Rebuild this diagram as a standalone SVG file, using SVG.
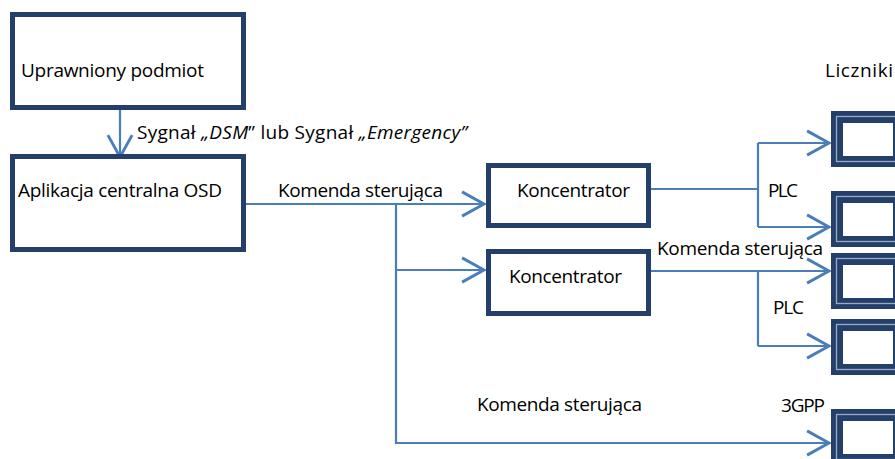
<svg xmlns="http://www.w3.org/2000/svg" xmlns:xlink="http://www.w3.org/1999/xlink" width="895" height="459" viewBox="0 0 895 459">
<style>
.box{fill:#fff;stroke:#24406a;stroke-width:5}
.t{font-family:"Open Sans","Liberation Sans",sans-serif;font-size:19px;fill:#000}
.c{fill:none;stroke:#4a7ebb;stroke-width:2.2}
.ar{fill:none;stroke:#4a7ebb;stroke-width:2.5}
</style>
<defs>
<marker id="arr" markerUnits="userSpaceOnUse" markerWidth="30" markerHeight="30" viewBox="-22 -13 26 26" refX="0" refY="0" orient="auto" overflow="visible">
<path class="ar" d="M-19,-10.5 L0,0 L-19,10.5"/>
</marker>
<g id="meter">
<rect x="0" y="0" width="72" height="56" fill="#24406a"/>
<rect x="5.5" y="5.5" width="70" height="45" fill="none" stroke="#9aaac0" stroke-width="1.3"/>
<rect x="12" y="12" width="50" height="33" fill="#fff"/>
</g>
</defs>
<g id="connectors">
<path class="c" d="M120,110 V157" marker-end="url(#arr)"/>
<path class="c" d="M246,204 H484" marker-end="url(#arr)"/>
<path class="c" d="M396,204 V443 H829" marker-end="url(#arr)"/>
<path class="c" d="M396,270 H484" marker-end="url(#arr)"/>
<path class="c" d="M651,189 H758"/>
<path class="c" d="M758,143 V227"/>
<path class="c" d="M758,143 H829" marker-end="url(#arr)"/>
<path class="c" d="M758,227 H829" marker-end="url(#arr)"/>
<path class="c" d="M651,271 H758 V346"/>
<path class="c" d="M758,346 H829" marker-end="url(#arr)"/>
<path class="c" d="M758,271 H829" marker-end="url(#arr)"/>
</g>
<g id="labels">
<text class="t" x="137" y="139" textLength="330">Sygnał <tspan font-style="italic">„DSM</tspan>” lub Sygnał <tspan font-style="italic">„Emergency”</tspan></text>
<text class="t" x="278" y="197" textLength="165">Komenda sterująca</text>
<text class="t" x="657" y="255" textLength="166">Komenda sterująca</text>
<text class="t" x="477" y="411" textLength="165">Komenda sterująca</text>
<text class="t" x="768" y="197" textLength="30">PLC</text>
<text class="t" x="773" y="314" textLength="31">PLC</text>
<text class="t" x="781" y="412" textLength="44">3GPP</text>
<text class="t" x="825" y="77" textLength="68">Liczniki</text>
</g>
<g id="uprawniony">
<rect class="box" x="12.5" y="14.5" width="231" height="93"/>
<text class="t" x="21" y="77" textLength="183">Uprawniony podmiot</text>
</g>
<g id="aplikacja">
<rect class="box" x="12.5" y="156.5" width="231" height="93"/>
<text class="t" x="18" y="197" textLength="204">Aplikacja centralna OSD</text>
</g>
<g id="koncentrator1">
<rect class="box" x="488.5" y="165.5" width="160" height="60"/>
<text class="t" x="517" y="197" textLength="113">Koncentrator</text>
</g>
<g id="koncentrator2">
<rect class="box" x="488.5" y="251.5" width="160" height="62"/>
<text class="t" x="509" y="283" textLength="113">Koncentrator</text>
</g>
<g id="licznik1"><use xlink:href="#meter" x="831" y="111"/></g>
<g id="licznik2"><use xlink:href="#meter" x="831" y="191"/></g>
<g id="licznik3"><use xlink:href="#meter" x="831" y="253"/></g>
<g id="licznik4"><use xlink:href="#meter" x="831" y="319"/></g>
<g id="licznik5"><use xlink:href="#meter" x="831" y="409"/></g>
</svg>
